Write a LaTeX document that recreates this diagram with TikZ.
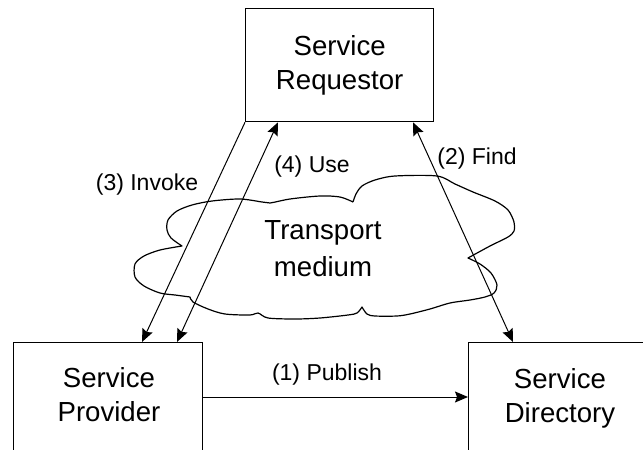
\documentclass[tikz,border=0pt]{standalone}
\usepackage{fontspec}
\setmainfont{Liberation Sans}
\usetikzlibrary{arrows.meta}
\begin{document}
\begin{tikzpicture}[x=1pt,y=-1pt,
  box/.style={draw, line width=1.3pt, inner sep=0pt, anchor=north west},
  bigtext/.style={font=\fontsize{27.6}{34}\selectfont, align=center, inner sep=0pt},
  lbl/.style={font=\fontsize{23}{27}\selectfont, inner sep=0pt, anchor=base},
  tip/.style={Stealth[length=13pt,width=11pt,inset=2pt]},
  conn/.style={line width=1pt, -{Stealth[length=13pt,width=11pt,inset=2pt]}},
  dconn/.style={line width=1pt, {Stealth[length=13pt,width=11pt,inset=2pt]}-{Stealth[length=13pt,width=11pt,inset=2pt]}},
  cloudline/.style={line width=1.2pt, line join=round}
]
\useasboundingbox (0,0) rectangle (643,450);
\fill[white] (0,0) rectangle (643,450);
\clip (0,0) rectangle (643,450);

% boxes
\node[box, bigtext, minimum width=188pt, minimum height=113pt] (req) at (245,8) {Service\\Requestor};
\node[box, minimum width=189pt, minimum height=120pt] (prov) at (13,342) {};
\node[box, minimum width=190pt, minimum height=120pt] (dir) at (468,342) {};
\node[bigtext, anchor=north] (provtext) at (109,367) {Service\\Provider};
\node[bigtext, anchor=north] (dirtext) at (560,368) {Service\\Directory};

% cloud
\draw[cloudline]
  plot[smooth, tension=0.5] coordinates {(353,202) (356,194) (362,186) (375,180) (395,176) (437,176) (455,184) (473,192) (495,201) (508,210) (514,222) (514,231) (508,237) (490,246) (468,258)}
  -- plot[smooth, tension=0.5] coordinates {(468,258) (480,264) (491,273) (497,285) (494,293) (485,297) (470,300) (450,303) (430,309) (410,314) (397,316) (375,316) (367,314) (362,307)}
  -- plot[smooth, tension=0.5] coordinates {(362,307) (357,313) (348,315) (320,318) (295,319) (268,318) (258,313) (250,315) (225,314) (208,309) (193,302) (190,297)}
  -- plot[smooth, tension=0.5] coordinates {(190,297) (175,295) (160,293) (144,286) (135,277) (135,264) (144,256) (160,250) (182,246)}
  -- plot[smooth, tension=0.5] coordinates {(182,246) (171,238) (167,230) (168,220) (177,211) (192,205) (212,201) (240,199) (262,202) (270,203) (290,199) (320,196) (340,197) (353,202)};
\node[bigtext, font=\fontsize{27.6}{37}\selectfont, anchor=north] (medium) at (323,220) {Transport\\medium};

% connectors
\draw[conn] (req.south west) -- ([xshift=129pt]prov.north west);
\draw[dconn] ([xshift=33pt]req.south west) -- ([xshift=164pt]prov.north west);
\draw[dconn] ([xshift=168pt]req.south west) -- ([xshift=45pt]dir.north west);
\draw[conn] ([yshift=-55pt]prov.north east) -- ([yshift=-55pt]dir.north west);

% labels
\node[lbl] (invoke) at (147,190) {(3) Invoke};
\node[lbl] (use) at (312,172) {(4) Use};
\node[lbl] (find) at (477,164) {(2) Find};
\node[lbl] (publish) at (327,380) {(1) Publish};
\end{tikzpicture}
\end{document}
